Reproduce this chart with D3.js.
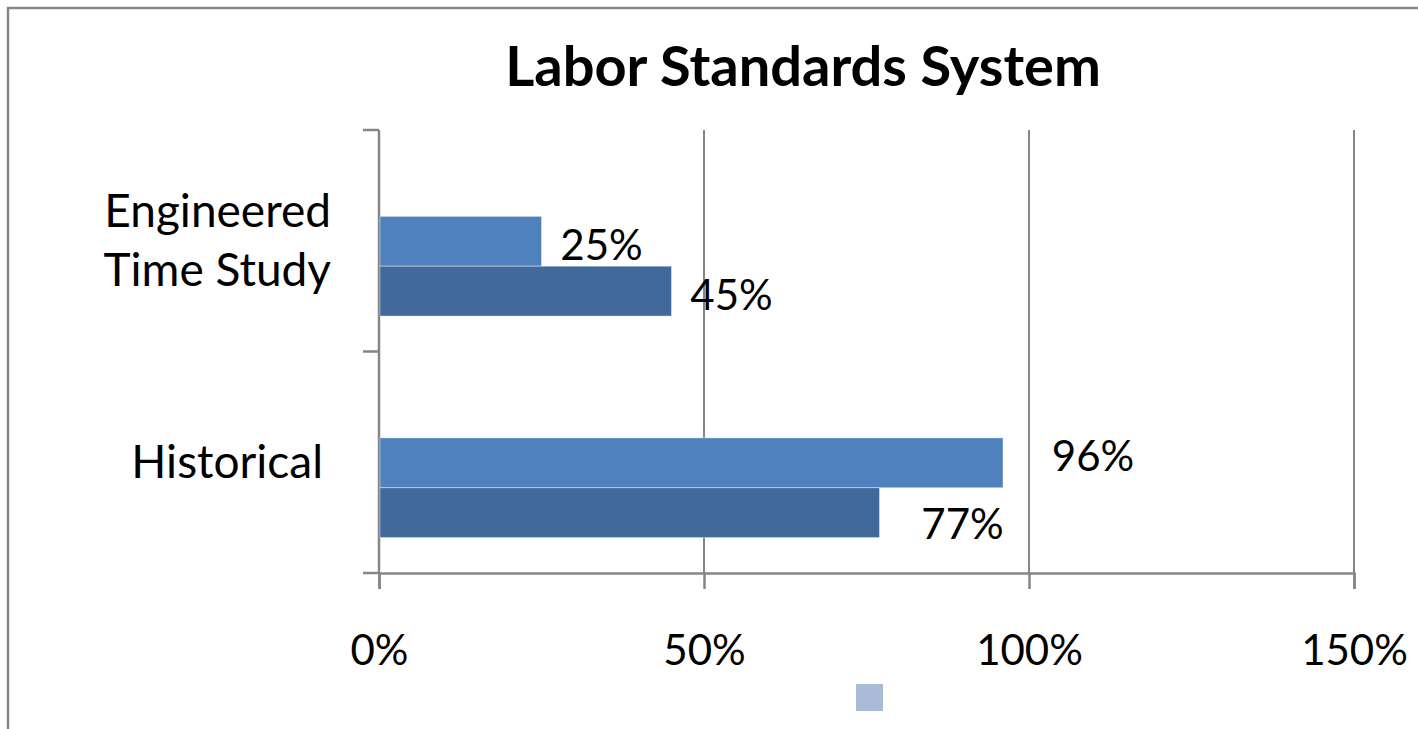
<!DOCTYPE html>
<html>
<head>
<meta charset="utf-8">
<script src="https://cdn.jsdelivr.net/npm/d3@7"></script>
<style>
  body { margin: 0; background: #fff; }
  text { font-family: Lato, "Liberation Sans", sans-serif; fill: #000; }
</style>
</head>
<body>
<div id="chart"></div>
<script>
// data
var categories = ["Engineered Time Study", "Historical"];
var series1 = [0.25, 0.96];
var series2 = [0.45, 0.77];
var xTicks = [0, 0.5, 1, 1.5];

var width = 1418, height = 729;
var plot = { left: 379, right: 1354, top: 130, bottom: 573 };
var gray = "#868686";

var svg = d3.select("#chart").append("svg")
    .attr("width", width)
    .attr("height", height);

svg.append("rect").attr("width", width).attr("height", height).attr("fill", "#fff");

// chart frame
svg.append("rect")
    .attr("x", 8).attr("y", 8)
    .attr("width", width + 20).attr("height", height + 20)
    .attr("fill", "none").attr("stroke", gray).attr("stroke-width", 2.5);

// title
svg.append("text")
    .attr("x", 803).attr("y", 86)
    .attr("text-anchor", "middle")
    .style("font-size", "56px").style("font-weight", "bold")
    .text("Labor Standards System");

// scales
var x = d3.scaleLinear().domain([0, 1.5]).range([plot.left, plot.right]);
var y = d3.scaleBand().domain(categories).range([plot.top, plot.bottom]);
var sub = d3.scaleBand().domain([0, 1])
    .range([y.bandwidth() * 0.39, y.bandwidth() * 0.84]);

// grid lines
svg.selectAll(".grid").data(xTicks.slice(1)).enter().append("line")
    .attr("x1", function(d) { return x(d); }).attr("x2", function(d) { return x(d); })
    .attr("y1", plot.top).attr("y2", plot.bottom)
    .attr("stroke", gray).attr("stroke-width", 2);

// x axis
var xAxis = svg.append("g")
    .attr("transform", "translate(0," + plot.bottom + ")")
    .call(d3.axisBottom(x).tickValues(xTicks).tickFormat(d3.format(".0%"))
        .tickSize(16).tickPadding(46));
xAxis.select(".domain").attr("stroke", gray).attr("stroke-width", 2.5);
xAxis.selectAll(".tick line").attr("stroke", gray).attr("stroke-width", 2.5);
xAxis.selectAll(".tick text").style("font-size", "42px").attr("fill", "#000")
    .style("font-family", "Lato, 'Liberation Sans', sans-serif");

// y axis (category ticks on band edges)
svg.append("line")
    .attr("x1", plot.left).attr("x2", plot.left)
    .attr("y1", plot.top).attr("y2", plot.bottom)
    .attr("stroke", gray).attr("stroke-width", 2.5);
var edges = categories.map(function(c) { return y(c); }).concat([plot.bottom]);
svg.selectAll(".ytick").data(edges).enter().append("line")
    .attr("x1", plot.left - 16).attr("x2", plot.left)
    .attr("y1", function(d) { return d; }).attr("y2", function(d) { return d; })
    .attr("stroke", gray).attr("stroke-width", 2.5);

// category labels
var catLines = [["Engineered", "Time Study"], ["Historical"]];
categories.forEach(function(c, i) {
  var cy = y(c) + y.bandwidth() / 2;
  var lines = catLines[i];
  var t = svg.append("text")
      .attr("text-anchor", "end")
      .style("font-size", "46px");
  lines.forEach(function(l, j) {
    t.append("tspan")
      .attr("x", i === 0 ? 331 : 323)
      .attr("y", cy + (j - (lines.length - 1) / 2) * 59 + 16)
      .text(l);
  });
});

// bars
var colors = ["#4F81BD", "#41699B"];
var seriesList = [series1, series2];
seriesList.forEach(function(vals, s) {
  svg.selectAll(".bar" + s).data(vals).enter().append("rect")
      .attr("x", x(0) + 1)
      .attr("y", function(d, i) { return y(categories[i]) + sub(s); })
      .attr("width", function(d) { return x(d) - x(0) - 1; })
      .attr("height", sub.bandwidth())
      .attr("fill", colors[s])
      .attr("stroke", "#fff").attr("stroke-opacity", 0.4).attr("stroke-width", 1);
});

// data labels (nudges as placed in the original)
var nudge = [[[60, 19], [90, 8]], [[60, 19], [83, 26]]];
seriesList.forEach(function(vals, s) {
  svg.selectAll(".lbl" + s).data(vals).enter().append("text")
      .attr("text-anchor", "middle")
      .attr("x", function(d, i) { return x(d) + nudge[s][i][0]; })
      .attr("y", function(d, i) {
        return y(categories[i]) + sub(s) + sub.bandwidth() / 2 + nudge[s][i][1];
      })
      .style("font-size", "42px")
      .text(function(d) { return d3.format(".0%")(d); });
});

// legend marker
svg.append("rect")
    .attr("x", 856).attr("y", 684).attr("width", 27).attr("height", 27)
    .attr("fill", "#AABBD8");
</script>
</body>
</html>
